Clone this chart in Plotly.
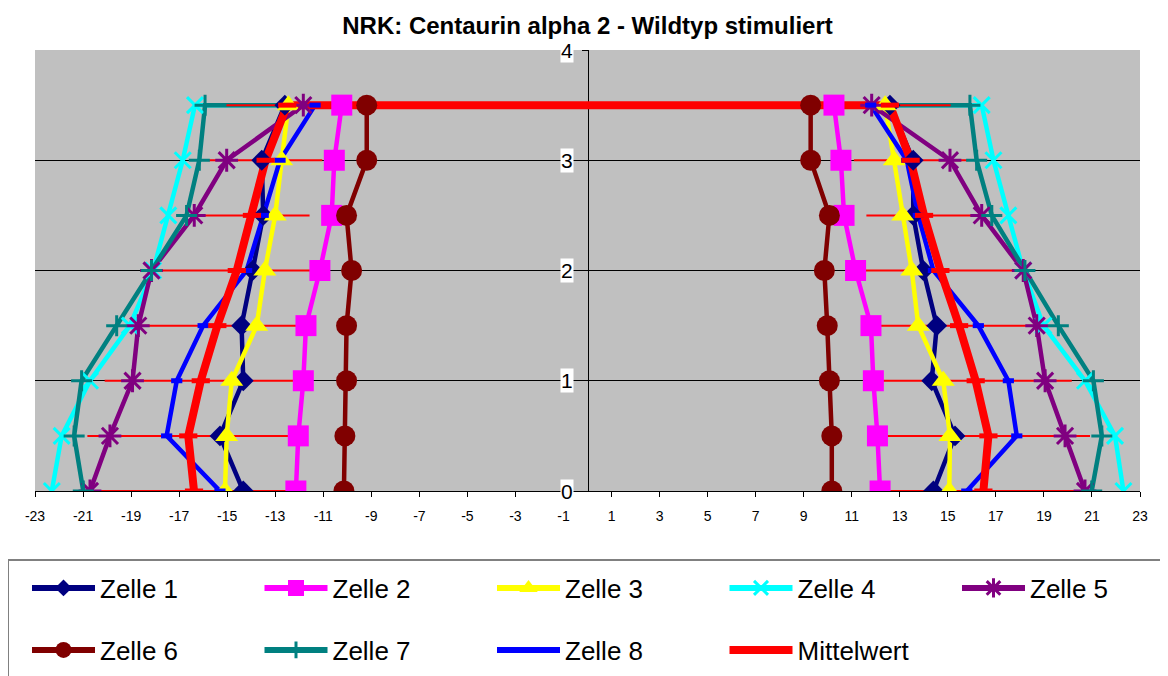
import plotly.graph_objects as go

# ---- data ----
y_levels = [0, 0.5, 1, 1.5, 2, 2.5, 3, 3.5]

series_names = ["Zelle 1", "Zelle 2", "Zelle 3", "Zelle 4", "Zelle 5",
                "Zelle 6", "Zelle 7", "Zelle 8"]

z1_left = [-14.33, -15.3, -14.33, -14.4, -13.94, -13.5, -13.56, -12.6]
z2_left = [-12.14, -12.04, -11.83, -11.72, -11.14, -10.65, -10.54, -10.23]
z3_left = [-15.09, -15.02, -14.81, -13.77, -13.43, -13.0, -12.73, -12.45]
z4_left = [-22.3, -21.89, -20.71, -19.05, -18.08, -17.45, -16.85, -16.34]
z5_left = [-20.71, -19.88, -18.94, -18.7, -18.15, -16.37, -15.02, -11.83]
z6_left = [-10.14, -10.1, -10.03, -10.03, -9.82, -10.03, -9.19, -9.19]
z7_left = [-20.99, -21.37, -21.06, -19.6, -18.15, -16.69, -16.16, -15.92]
z8_left = [-15.3, -17.52, -17.1, -16.0, -14.19, -13.5, -12.8, -11.34]

z1_right = [14.4, 15.3, 14.33, 14.54, 13.98, 13.56, 13.56, 12.59]
z2_right = [12.18, 12.07, 11.9, 11.8, 11.16, 10.68, 10.55, 10.26]
z3_right = [15.06, 15.09, 14.81, 13.77, 13.5, 13.12, 12.77, 12.39]
z4_right = [22.31, 21.96, 20.71, 18.98, 18.14, 17.52, 16.9, 16.41]
z5_right = [20.71, 19.88, 19.05, 18.7, 18.14, 16.41, 15.09, 11.83]
z6_right = [10.17, 10.17, 10.07, 9.98, 9.86, 10.07, 9.29, 9.29]
z7_right = [20.99, 21.41, 21.06, 19.6, 18.21, 16.83, 16.2, 15.92]
z8_right = [15.79, 17.87, 17.52, 16.27, 14.4, 13.77, 13.29, 11.79]

mw_left = [-16.38, -16.62, -16.1, -15.41, -14.6, -13.97, -13.4, -12.5]
mw_right = [16.48, 16.69, 16.16, 15.47, 14.69, 14.01, 13.45, 12.59]
err_left = [4.0, 4.2, 4.0, 3.4, 3.1, 2.4, 2.36, 2.53]
err_right = [4.0, 4.23, 4.0, 3.3, 3.15, 2.4, 2.36, 2.53]

x_ticks = list(range(-23, 24, 2))
y_ticks = [0, 1, 2, 3, 4]
y_grid = [1, 2, 3]

# ---- styles ----
FONT = "Liberation Sans, Arial, sans-serif"

styles = [
    dict(color="#000080", symbol="diamond", size=16, lw=0, leg_size=13),
    dict(color="#FF00FF", symbol="square", size=21, lw=0, leg_size=17),
    dict(color="#FFFF00", symbol="triangle-up", size=20, lw=0, leg_size=17),
    dict(color="#00FFFF", symbol="x-thin-open", size=16, lw=3, leg_size=14),
    dict(color="#800080", symbol="asterisk-open", size=19, lw=3, leg_size=16),
    dict(color="#800000", symbol="circle", size=21, lw=0, leg_size=17),
    dict(color="#008080", symbol="cross-thin-open", size=15, lw=3, leg_size=12),
    dict(color="#0000FF", symbol="line-ew-open", size=8, lw=5, leg_size=8),
]
legend_of = ["legend", "legend", "legend", "legend", "legend3",
             "legend2", "legend2", "legend2"]

lefts = [z1_left, z2_left, z3_left, z4_left, z5_left, z6_left, z7_left, z8_left]
rights = [z1_right, z2_right, z3_right, z4_right, z5_right, z6_right, z7_right, z8_right]

ys = y_levels + y_levels[::-1]

fig = go.Figure()

# lines of each cell (closed contour across the top)
for name, l, r, st in zip(series_names, lefts, rights, styles):
    fig.add_trace(go.Scatter(
        x=l + r[::-1], y=ys, mode="lines", showlegend=False, hoverinfo="skip",
        line=dict(color=st["color"], width=4.5),
    ))

# mean line with x error bars
fig.add_trace(go.Scatter(
    x=mw_left + mw_right[::-1], y=ys, mode="lines", showlegend=False,
    hoverinfo="skip", line=dict(color="#FF0000", width=8),
    error_x=dict(type="data", symmetric=False,
                 array=err_left + err_right[::-1],
                 arrayminus=err_left + err_right[::-1],
                 color="#FF0000", thickness=2, width=0),
))

# markers on top of all lines
for name, l, r, st in zip(series_names, lefts, rights, styles):
    fig.add_trace(go.Scatter(
        x=l + r[::-1], y=ys, mode="markers", showlegend=False, hoverinfo="skip",
        marker=dict(color=st["color"], symbol=st["symbol"], size=st["size"],
                    line=dict(color=st["color"], width=st["lw"])),
    ))
fig.add_trace(go.Scatter(
    x=mw_left + mw_right[::-1], y=ys, mode="markers", showlegend=False,
    hoverinfo="skip",
    marker=dict(color="#FF0000", symbol="line-ew-open", size=13,
                line=dict(color="#FF0000", width=5)),
))

# legend entries
for name, st, lg in zip(series_names, styles, legend_of):
    fig.add_trace(go.Scatter(
        x=[None], y=[None], mode="lines+markers", name=name, legend=lg,
        line=dict(color=st["color"], width=6),
        marker=dict(color=st["color"], symbol=st["symbol"], size=st["leg_size"],
                    line=dict(color=st["color"], width=st["lw"] if st["lw"] else 0)),
    ))
fig.add_trace(go.Scatter(
    x=[None], y=[None], mode="lines", name="Mittelwert", legend="legend2",
    line=dict(color="#FF0000", width=8),
))

# y tick labels with white background at the central axis
for v in y_ticks:
    fig.add_annotation(x=0, y=v, xref="x", yref="y", text=str(v),
                       showarrow=False, xanchor="right", yanchor="middle",
                       xshift=-14, bgcolor="white", borderpad=0,
                       font=dict(family=FONT, size=21, color="black"))

leg_common = dict(orientation="h", xanchor="left", yanchor="middle",
                  entrywidth=154.5, entrywidthmode="pixels", itemwidth=63,
                  bgcolor="rgba(0,0,0,0)", borderwidth=0,
                  font=dict(family=FONT, size=26, color="black"),
                  traceorder="normal", itemclick=False, itemdoubleclick=False)

# page offset of 8px (browser body margin) is compensated in the margins
fig.update_layout(
    width=1168, height=676, autosize=False,
    margin=dict(l=27, r=36, t=42, b=193, pad=0, autoexpand=False),
    paper_bgcolor="white", plot_bgcolor="#C0C0C0",
    title=dict(text="<b>NRK: Centaurin alpha 2 - Wildtyp stimuliert</b>",
               x=0.5, xref="paper", xanchor="center",
               y=1 - 18 / 676, yref="container", yanchor="middle",
               font=dict(family=FONT, size=24, color="black")),
    xaxis=dict(range=[-23, 23], tickvals=x_ticks, ticktext=[str(t) for t in x_ticks],
               showgrid=False, zeroline=False, showline=True, linecolor="black",
               linewidth=1, ticks="outside", ticklen=5, tickcolor="black",
               ticklabelstandoff=7,
               tickfont=dict(family=FONT, size=14, color="black"),
               fixedrange=True),
    yaxis=dict(range=[0, 4], anchor="free", position=0.5, tickvals=y_ticks,
               showticklabels=False, showgrid=False, zeroline=False,
               showline=True, linecolor="black", linewidth=1,
               ticks="outside", ticklen=6, tickcolor="black",
               layer="below traces",
               minor=dict(tickvals=y_grid, showgrid=True, gridcolor="black",
                          gridwidth=1, ticks=""),
               fixedrange=True),
    legend=dict(x=(27 - 35) / 1105, y=(491 - 588) / 441, **leg_common),
    legend3=dict(x=(957 - 35) / 1105, y=(491 - 588) / 441, **leg_common),
    legend2=dict(x=(27 - 35) / 1105, y=(491 - 650) / 441, **leg_common),
    shapes=[dict(type="rect", xref="paper", yref="paper",
                 x0=(8 - 35) / 1105, x1=(1190 - 35) / 1105,
                 y0=(491 - 560) / 441, y1=(491 - 700) / 441,
                 line=dict(color="#808080", width=2), fillcolor="rgba(0,0,0,0)",
                 layer="below")],
    showlegend=True,
    hovermode=False,
)

fig.write_html("out.html")
